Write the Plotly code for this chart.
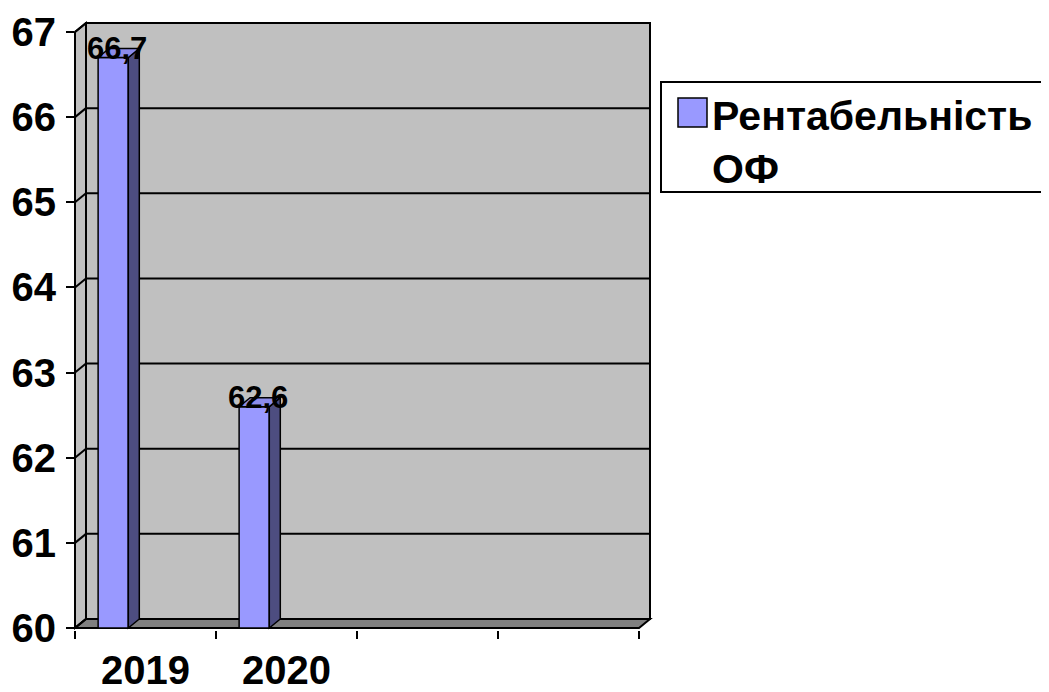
import plotly.graph_objects as go

# ---- data ----
categories = ["2019", "2020"]
values = [66.7, 62.6]
empty_slots = [" ", "  "]
series_name = "Рентабельність ОФ"
y_ticks = [60, 61, 62, 63, 64, 65, 66, 67]

# ---- layout geometry (pixels in the 1049x692 window) ----
OFF = 8                     # default page body margin
W, H = 1049 - OFF, 692 - OFF
L, R_PIX = 75, 652          # plot area left/right pixel (window coords)
T_PIX, B_PIX = 20, 630      # plot area top/bottom pixel (window coords)
CAT_PX = 141                # pixels per category
Y0_PIX, Y1_PIX = 628, 32    # pixel of y=60 and y=67
PY = (Y0_PIX - Y1_PIX) / (y_ticks[-1] - y_ticks[0])
DXP, DYP = 11, 9            # 3D depth offset in pixels

xmin = -0.5
xmax = xmin + (R_PIX - L) / CAT_PX
ymin = y_ticks[0] - (B_PIX - Y0_PIX) / PY
ymax = y_ticks[0] + (B_PIX - T_PIX - (B_PIX - Y0_PIX)) / PY
DX = DXP / CAT_PX
DY = DYP / PY

def xp(v):
    return (v - xmin) / (xmax - xmin)

def yp(v):
    return (v - ymin) / (ymax - ymin)

def ppx(p):  # window pixel -> paper x
    return (p - L) / (R_PIX - L)

def ppy(p):  # window pixel -> paper y
    return (B_PIX - p) / (B_PIX - T_PIX)

def poly(pts):
    return "M " + " L ".join(f"{a},{b}" for a, b in pts) + " Z"

WALL = "#C0C0C0"
FLOOR = "#808080"
BAR = "#9999FF"
BAR_SIDE = "#4D4D80"
BAR_TOP = "#8C8CEB"
ncat = len(categories) + len(empty_slots)
x_lo, x_hi = -0.5, ncat - 0.5
y_lo, y_hi = y_ticks[0], y_ticks[-1]

shapes = []
# back wall
shapes.append(dict(type="path", xref="paper", yref="paper", layer="below",
                   path=poly([(xp(x_lo + DX), yp(y_lo + DY)), (xp(x_hi + DX), yp(y_lo + DY)),
                              (xp(x_hi + DX), yp(y_hi + DY)), (xp(x_lo + DX), yp(y_hi + DY))]),
                   fillcolor=WALL, line=dict(color="black", width=2)))
# left side wall
shapes.append(dict(type="path", xref="paper", yref="paper", layer="below",
                   path=poly([(xp(x_lo), yp(y_lo)), (xp(x_lo + DX), yp(y_lo + DY)),
                              (xp(x_lo + DX), yp(y_hi + DY)), (xp(x_lo), yp(y_hi))]),
                   fillcolor=WALL, line=dict(color="black", width=2)))
# floor
shapes.append(dict(type="path", xref="paper", yref="paper", layer="below",
                   path=poly([(xp(x_lo), yp(y_lo)), (xp(x_hi), yp(y_lo)),
                              (xp(x_hi + DX), yp(y_lo + DY)), (xp(x_lo + DX), yp(y_lo + DY))]),
                   fillcolor=FLOOR, line=dict(color="black", width=2)))
# gridlines on back wall + left wall diagonals
for v in y_ticks:
    if y_lo < v < y_hi:
        shapes.append(dict(type="line", xref="paper", yref="paper", layer="below",
                           x0=xp(x_lo + DX), x1=xp(x_hi + DX), y0=yp(v + DY), y1=yp(v + DY),
                           line=dict(color="black", width=2)))
    shapes.append(dict(type="line", xref="paper", yref="paper", layer="below",
                       x0=xp(x_lo), x1=xp(x_lo + DX), y0=yp(v), y1=yp(v + DY),
                       line=dict(color="black", width=2)))
# axis lines
shapes.append(dict(type="line", xref="paper", yref="paper", layer="above",
                   x0=xp(x_lo), x1=xp(x_lo), y0=yp(y_lo), y1=yp(y_hi),
                   line=dict(color="black", width=2)))
shapes.append(dict(type="line", xref="paper", yref="paper", layer="below",
                   x0=xp(x_lo), x1=xp(x_hi), y0=yp(y_lo), y1=yp(y_lo),
                   line=dict(color="black", width=2)))

BAR_OFFSET = -0.336
BAR_WIDTH = 0.214
annotations = []
for i, v in enumerate(values):
    bl = i + BAR_OFFSET
    br = bl + BAR_WIDTH
    # side face
    shapes.append(dict(type="path", xref="paper", yref="paper", layer="above",
                       path=poly([(xp(br), yp(y_lo)), (xp(br + DX), yp(y_lo + DY)),
                                  (xp(br + DX), yp(v + DY)), (xp(br), yp(v))]),
                       fillcolor=BAR_SIDE, line=dict(color="black", width=1.5)))
    # top face
    shapes.append(dict(type="path", xref="paper", yref="paper", layer="above",
                       path=poly([(xp(bl), yp(v)), (xp(br), yp(v)),
                                  (xp(br + DX), yp(v + DY)), (xp(bl + DX), yp(v + DY))]),
                       fillcolor=BAR_TOP, line=dict(color="black", width=1.5)))
    annotations.append(dict(xref="paper", yref="paper", x=xp((bl + br) / 2 + DX / 2), y=yp(v),
                            xanchor="center", yanchor="bottom", xshift=-2, yshift=-10,
                            showarrow=False, text=f"{v:.1f}".replace(".", ","),
                            font=dict(family="Liberation Sans", size=31, color="black", weight="bold")))

# manual legend (box, swatch, text)
shapes.append(dict(type="rect", xref="paper", yref="paper", layer="above",
                   x0=ppx(661), x1=ppx(1065), y0=ppy(82), y1=ppy(192),
                   fillcolor="white", line=dict(color="black", width=2)))
shapes.append(dict(type="rect", xref="paper", yref="paper", layer="above",
                   x0=ppx(678), x1=ppx(707), y0=ppy(98), y1=ppy(127),
                   fillcolor=BAR, line=dict(color="black", width=1.5)))
annotations.append(dict(xref="paper", yref="paper", x=ppx(710), y=ppy(91),
                        xanchor="left", yanchor="top", showarrow=False, align="left",
                        text=series_name.replace(" ", "<br>"),
                        font=dict(family="Liberation Sans", size=41, color="black", weight="bold")))

fig = go.Figure()
fig.add_trace(go.Bar(x=categories, y=[v - y_lo for v in values], base=y_lo,
                     offset=BAR_OFFSET, width=BAR_WIDTH, name=series_name,
                     marker=dict(color=BAR, line=dict(color="black", width=1.5)),
                     showlegend=False, hoverinfo="skip"))

fig.update_layout(
    width=W, height=H,
    margin=dict(l=L - OFF, r=(W + OFF) - R_PIX, t=T_PIX - OFF, b=(H + OFF) - B_PIX,
                pad=0, autoexpand=False),
    paper_bgcolor="white", plot_bgcolor="rgba(0,0,0,0)",
    shapes=shapes, annotations=annotations,
    showlegend=False,
    xaxis=dict(type="category", categoryorder="array", categoryarray=categories + empty_slots,
               range=[xmin, xmax], tickson="boundaries", ticks="outside", ticklen=8,
               tickwidth=2, tickcolor="black", showgrid=False, showline=False, zeroline=False,
               automargin=False, ticklabelstandoff=13,
               tickfont=dict(family="Liberation Sans", size=40, color="black", weight="bold")),
    yaxis=dict(range=[ymin, ymax], tickvals=y_ticks, ticks="outside", ticklen=8,
               tickwidth=2, tickcolor="black", showgrid=False, showline=False, zeroline=False,
               automargin=False, ticklabelstandoff=2,
               tickfont=dict(family="Liberation Sans", size=40, color="black", weight="bold")),
)

fig.write_html("out.html")
